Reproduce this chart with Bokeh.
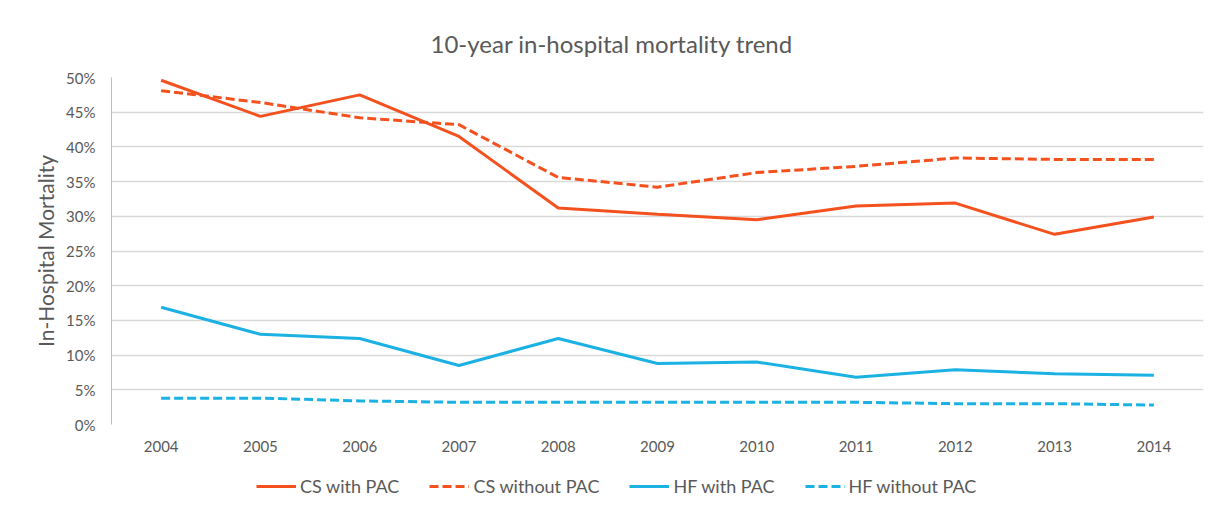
from bokeh.plotting import figure
from bokeh.layouts import column
from bokeh.models import NumeralTickFormatter, FixedTicker, Legend, LegendItem, Title, Range1d
from bokeh.embed import file_html
from bokeh.resources import INLINE

years = [2004, 2005, 2006, 2007, 2008, 2009, 2010, 2011, 2012, 2013, 2014]
cs_with_pac = [0.496, 0.444, 0.475, 0.415, 0.312, 0.303, 0.295, 0.315, 0.319, 0.274, 0.299]
cs_without_pac = [0.481, 0.464, 0.442, 0.432, 0.356, 0.342, 0.363, 0.372, 0.384, 0.382, 0.382]
hf_with_pac = [0.169, 0.130, 0.124, 0.085, 0.124, 0.088, 0.090, 0.068, 0.079, 0.073, 0.071]
hf_without_pac = [0.038, 0.038, 0.034, 0.032, 0.032, 0.032, 0.032, 0.032, 0.030, 0.030, 0.028]
y_ticks = [0, 0.05, 0.10, 0.15, 0.20, 0.25, 0.30, 0.35, 0.40, 0.45, 0.50]
series_labels = ["CS with PAC", "CS without PAC", "HF with PAC", "HF without PAC"]

ORANGE = "#F4511E"
BLUE = "#1BB1E3"
GREY = "#595959"
FONT = "Lato"

p = figure(frame_width=1092, frame_height=347, x_range=(2003.5, 2014.5), y_range=(0, 0.5),
           output_backend="svg", toolbar_location=None,
           min_border_left=111, min_border_right=10, min_border_top=77, min_border_bottom=50)
p.outline_line_color = None
p.background_fill_color = "white"
p.border_fill_color = "white"

t = Title(text="10-year in-hospital mortality trend", align="left",
          text_font=FONT, text_font_size="24px", text_font_style="normal",
          text_color=GREY, offset=319, standoff=39)
p.add_layout(t, "above")

p.xgrid.grid_line_color = None
p.ygrid.grid_line_color = "#D9D9D9"
p.ygrid.grid_line_width = 1.5
p.ygrid.ticker = FixedTicker(ticks=y_ticks)

p.yaxis.ticker = FixedTicker(ticks=y_ticks)
p.yaxis.formatter = NumeralTickFormatter(format="0%")
p.yaxis.axis_line_color = "#BFBFBF"
p.yaxis.major_tick_line_color = None
p.yaxis.minor_tick_line_color = None
p.yaxis.major_label_text_font = FONT
p.yaxis.major_label_text_font_size = "15px"
p.yaxis.major_label_text_color = GREY
p.yaxis.major_label_standoff = 10
p.yaxis.axis_label = "In-Hospital Mortality"
p.yaxis.axis_label_text_font = FONT
p.yaxis.axis_label_text_font_size = "21px"
p.yaxis.axis_label_text_font_style = "normal"
p.yaxis.axis_label_text_color = GREY
p.yaxis.axis_label_standoff = 5

p.xaxis.ticker = FixedTicker(ticks=years)
p.xaxis.axis_line_color = None
p.xaxis.major_tick_line_color = None
p.xaxis.minor_tick_line_color = None
p.xaxis.major_label_text_font = FONT
p.xaxis.major_label_text_font_size = "15px"
p.xaxis.major_label_text_color = GREY
p.xaxis.major_label_standoff = 10

p.line(years, cs_with_pac, line_color=ORANGE, line_width=3)
p.line(years, cs_without_pac, line_color=ORANGE, line_width=3, line_dash="9 4")
p.line(years, hf_with_pac, line_color=BLUE, line_width=3)
p.line(years, hf_without_pac, line_color=BLUE, line_width=3, line_dash="9 4")

# legend strip below the chart (its lines lie outside the visible range; only legend glyphs show)
lg = figure(width=1213, height=30, x_range=Range1d(0, 1), y_range=Range1d(0, 1),
            output_backend="svg", toolbar_location=None, x_axis_type=None, y_axis_type=None,
            min_border_left=0, min_border_right=0, min_border_top=0, min_border_bottom=0)
lg.outline_line_color = None
lg.grid.grid_line_color = None
lg.border_fill_color = "white"
lr1 = lg.line(years, cs_with_pac, line_color=ORANGE, line_width=3)
lr2 = lg.line(years, cs_without_pac, line_color=ORANGE, line_width=3, line_dash="9 4")
lr3 = lg.line(years, hf_with_pac, line_color=BLUE, line_width=3)
lr4 = lg.line(years, hf_without_pac, line_color=BLUE, line_width=3, line_dash="9 4")

legend = Legend(items=[LegendItem(label=series_labels[0], renderers=[lr1]),
                       LegendItem(label=series_labels[1], renderers=[lr2]),
                       LegendItem(label=series_labels[2], renderers=[lr3]),
                       LegendItem(label=series_labels[3], renderers=[lr4])],
                orientation="horizontal", location=(145, 7),
                label_text_font=FONT, label_text_font_size="18px", label_text_color=GREY,
                glyph_width=40, glyph_height=20, label_height=20, label_standoff=4, spacing=30,
                border_line_color=None, background_fill_alpha=0, padding=0, margin=0)
lg.add_layout(legend, "center")

layout = column(p, lg, spacing=0)
open("out.html", "w").write(file_html(layout, INLINE))
